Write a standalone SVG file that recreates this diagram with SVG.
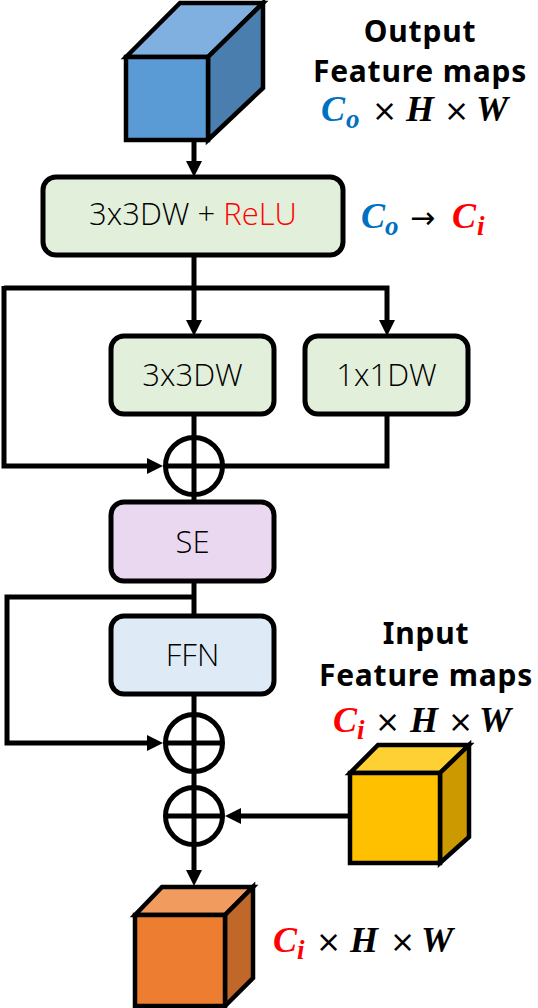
<svg xmlns="http://www.w3.org/2000/svg" width="538" height="1008" viewBox="0 0 538 1008">
<style>
.box{stroke:#000;stroke-width:5}
.green{fill:#E2EFDA}
.se{fill:#EAD8F1}
.ffn{fill:#DEEBF7}
.lbl{font-family:"Open Sans","Noto Sans","Liberation Sans",sans-serif;font-size:31px;font-weight:300;fill:#000;text-anchor:middle}
.ttl{font-family:"Noto Sans","Liberation Sans",sans-serif;font-size:30px;font-weight:bold;letter-spacing:0.8px;fill:#000;text-anchor:middle}
.m{font-family:"Liberation Serif","DejaVu Serif",serif;font-size:36px;font-weight:bold;font-style:italic}
.ms{font-family:"Liberation Serif","DejaVu Serif",serif;font-size:27px;font-weight:bold;font-style:italic}
.x{font-family:"DejaVu Sans","Liberation Sans",sans-serif;font-size:30px;fill:#000}
.blue{fill:#0070C0}
.red{fill:#FF0000}
.blk{fill:#000}
.ln{fill:none;stroke:#000;stroke-width:5}
.cube{stroke:#000;stroke-width:4.5;stroke-linejoin:miter}
</style>
<defs>
<marker id="ah" viewBox="0 0 16 16" refX="6" refY="8" markerWidth="16" markerHeight="16" markerUnits="userSpaceOnUse" orient="auto">
<path d="M0,0 L16,8 L0,16 z" fill="#000"/>
</marker>
</defs>

<g id="connectors">
<line class="ln" x1="194" y1="140" x2="194" y2="167" marker-end="url(#ah)"/>
<line class="ln" x1="194" y1="255" x2="194" y2="326" marker-end="url(#ah)"/>
<polyline class="ln" points="4,288 387,288 387,326" marker-end="url(#ah)"/>
<polyline class="ln" points="4,286 4,466 153,466" marker-end="url(#ah)"/>
<polyline class="ln" points="387,414 387,466 222,466"/>
<line class="ln" x1="194" y1="414" x2="194" y2="502"/>
<line class="ln" x1="194" y1="581" x2="194" y2="616"/>
<polyline class="ln" points="196,597 7,597 7,743 153,743" marker-end="url(#ah)"/>
<line class="ln" x1="194" y1="694" x2="194" y2="876" marker-end="url(#ah)"/>
<line class="ln" x1="350" y1="816" x2="235" y2="816" marker-end="url(#ah)"/>
</g>

<g id="sum1">
<circle class="ln" cx="194" cy="466" r="28.5"/>
<line class="ln" x1="165.5" y1="466" x2="222.5" y2="466"/>
</g>
<g id="sum2">
<circle class="ln" cx="194" cy="743" r="28.5"/>
<line class="ln" x1="165.5" y1="743" x2="222.5" y2="743"/>
</g>
<g id="sum3">
<circle class="ln" cx="194" cy="816" r="28.5"/>
<line class="ln" x1="165.5" y1="816" x2="222.5" y2="816"/>
</g>

<g id="output-cube">
<polygon class="cube" fill="#7FB0DF" points="126,57 180,3 263,3 208,57"/>
<polygon class="cube" fill="#4A7EAE" points="208,57 263,3 263,88 208,140"/>
<rect class="cube" fill="#5B9BD5" x="126" y="57" width="82" height="83"/>
</g>
<g id="output-label">
<text class="ttl" x="420" y="42">Output</text>
<text class="ttl" x="420" y="82">Feature maps</text>
<text y="121"><tspan class="m blue" x="321">C</tspan><tspan class="ms blue" x="346" y="128">o</tspan><tspan class="x" x="372" y="121">×</tspan><tspan class="m blk" x="406">H</tspan><tspan class="x" x="444">×</tspan><tspan class="m blk" x="476">W</tspan></text>
</g>

<g id="dw-relu">
<rect class="box green" x="43" y="177" width="300" height="78" rx="13"/>
<text class="lbl" x="193" y="225">3x3DW + <tspan class="red">ReLU</tspan></text>
</g>
<g id="channel-label">
<text y="228"><tspan class="m blue" x="361">C</tspan><tspan class="ms blue" x="385" y="235">o</tspan><tspan class="x" x="410" y="228">→</tspan><tspan class="m red" x="452">C</tspan><tspan class="ms red" x="477" y="235">i</tspan></text>
</g>

<g id="dw3">
<rect class="box green" x="111" y="336" width="163" height="78" rx="13"/>
<text class="lbl" x="192.5" y="386">3x3DW</text>
</g>
<g id="dw1">
<rect class="box green" x="305" y="336" width="163" height="78" rx="13"/>
<text class="lbl" x="386.5" y="386">1x1DW</text>
</g>

<g id="se">
<rect class="box se" x="111" y="502" width="163" height="79" rx="13"/>
<text class="lbl" x="192.5" y="553">SE</text>
</g>
<g id="ffn">
<rect class="box ffn" x="111" y="616" width="163" height="78" rx="13"/>
<text class="lbl" x="192.5" y="666">FFN</text>
</g>

<g id="input-label">
<text class="ttl" x="426" y="644">Input</text>
<text class="ttl" x="426" y="686">Feature maps</text>
<text y="732"><tspan class="m red" x="333">C</tspan><tspan class="ms red" x="357" y="739">i</tspan><tspan class="x" x="375" y="732">×</tspan><tspan class="m blk" x="410">H</tspan><tspan class="x" x="448">×</tspan><tspan class="m blk" x="479">W</tspan></text>
</g>
<g id="input-cube">
<polygon class="cube" fill="#FFD034" points="350,773 378,745 469,745 440,773"/>
<polygon class="cube" fill="#CC9A00" points="440,773 469,745 469,837 440,863"/>
<rect class="cube" fill="#FFC000" x="350" y="773" width="90" height="90"/>
</g>

<g id="result-cube">
<polygon class="cube" fill="#F19B5E" points="135,915 162,887 253,887 225,915"/>
<polygon class="cube" fill="#C0672A" points="225,915 253,887 253,978 225,1006"/>
<rect class="cube" fill="#ED7D31" x="135" y="915" width="90" height="91"/>
</g>
<g id="result-label">
<text y="952"><tspan class="m red" x="273">C</tspan><tspan class="ms red" x="297" y="959">i</tspan><tspan class="x" x="316" y="952">×</tspan><tspan class="m blk" x="350">H</tspan><tspan class="x" x="390">×</tspan><tspan class="m blk" x="421">W</tspan></text>
</g>
</svg>
